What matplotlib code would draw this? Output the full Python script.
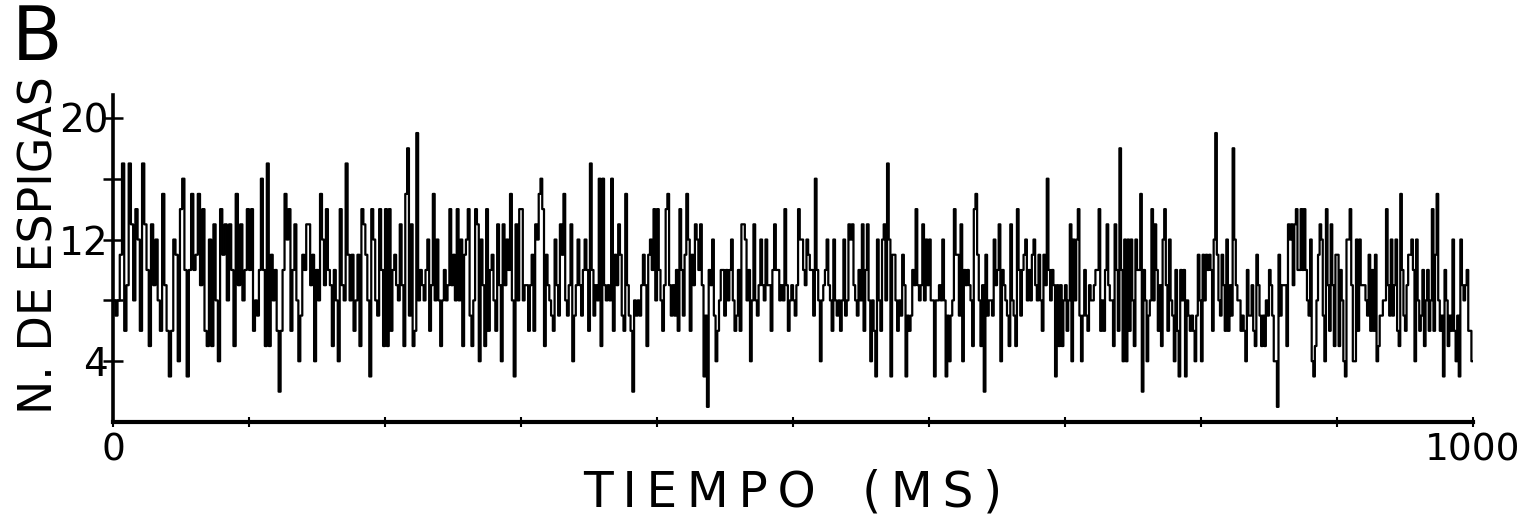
import numpy as np
import matplotlib
matplotlib.use("Agg")
import matplotlib.pyplot as plt

# spike counts, one list per 100 ms stretch
seg1 = [8, 7, 8, 11, 17, 6, 9, 17, 13, 8, 14, 12, 6, 17, 13, 10, 5, 13, 9, 12, 8, 6, 15, 9, 6, 3, 6, 12, 11, 4,
        14, 16, 10, 3, 10, 15, 10, 11, 15, 9, 14, 6, 5, 12, 5, 13, 8, 4, 14, 11, 13, 8, 13, 10, 5, 15, 9, 13, 8, 10, 14]
seg2 = [10, 14, 6, 8, 7, 10, 16, 10, 5, 17, 5, 11, 8, 10, 6, 2, 6, 10, 15, 12, 14, 6, 10, 13, 8, 4, 7, 11, 10, 13,
        13, 9, 11, 4, 10, 8, 15, 12, 9, 14, 10, 9, 5, 10, 8, 4, 14, 9, 8, 17, 11, 8, 11, 6, 8, 11, 5, 14, 13, 11,
        8, 3, 14, 12, 8, 7, 14, 10, 5]
seg3 = [14, 5, 14, 6, 10, 11, 9, 8, 13, 9, 5, 15, 18, 7, 13, 5, 6, 19, 8, 10, 9, 8, 10, 12, 6, 9, 15, 8, 12, 8,
        5, 8, 10, 8, 9, 14, 9, 11, 8, 14, 8, 12, 5, 11, 12, 14, 7, 5, 8, 14, 13, 4, 12, 9, 5, 14, 6, 10, 11, 8,
        6, 13, 9, 4, 13, 9, 12, 10, 15, 8, 3, 13, 8, 14]
seg4 = [14, 8, 9, 9, 6, 9, 11, 6, 13, 12, 15, 16, 14, 5, 11, 9, 8, 7, 6, 12, 9, 7, 13, 11, 15, 8, 7, 9, 13, 4,
        7, 9, 12, 9, 7, 10, 12, 10, 6, 17, 10, 7, 9, 8, 16, 5, 16, 9, 8, 9, 8, 16, 6, 11, 9, 13, 11, 7, 6, 15,
        9, 7, 6, 2, 8, 7, 8, 7, 9, 11, 9, 5, 11, 12, 10, 14, 8]
seg5 = [14, 10, 8, 6, 9, 14, 15, 9, 7, 9, 7, 10, 6, 14, 10, 7, 11, 15, 12, 6, 11, 9, 13, 12, 10, 13, 9, 3, 7, 1,
        10, 9, 12, 7, 4, 6, 8, 10, 10, 7, 10, 8, 10, 12, 8, 6, 7, 10, 6, 13, 13, 12, 8, 10, 4, 8, 13, 8, 7, 9,
        12, 9, 8, 12, 9, 9, 6, 10, 13, 10, 10, 8, 9, 8, 14, 9, 6, 8, 9]
seg6 = [8, 7, 9, 14, 12, 12, 10, 9, 12, 11, 10, 10, 7, 16, 10, 8, 4, 8, 9, 10, 12, 9, 8, 6, 12, 8, 7, 8, 6, 8,
        12, 7, 8, 13, 12, 13, 9, 8, 7, 10, 8, 13, 6, 10, 13, 8, 4, 8, 6, 3, 12, 8, 6, 12, 13, 8, 17, 12, 3, 11,
        11, 8, 6, 8, 7, 11, 9, 3, 7, 6, 7, 10, 9, 14, 9, 8, 9, 13, 8, 12, 9]
seg7 = [12, 8, 8, 3, 8, 8, 9, 8, 12, 8, 3, 7, 4, 7, 8, 14, 11, 11, 7, 13, 4, 10, 9, 10, 9, 8, 5, 14, 15, 11,
        8, 5, 9, 2, 11, 7, 8, 8, 7, 12, 9, 10, 13, 4, 10, 9, 8, 7, 5, 13, 8, 7, 5, 14, 10, 7, 10, 11, 12, 8,
        10, 8, 11, 12, 9, 8, 11, 8, 6, 11, 9, 16, 10, 8, 10, 9, 3, 9, 5, 9, 5, 8]
seg8 = [9, 6, 8, 13, 4, 12, 8, 12, 14, 7, 4, 7, 10, 7, 6, 9, 8, 8, 9, 10, 10, 14, 6, 8, 6, 10, 13, 9, 8, 8,
        5, 13, 10, 6, 18, 10, 4, 12, 4, 12, 6, 12, 8, 5, 12, 10, 10, 15, 2, 10, 8, 4, 7, 8, 14, 8, 13, 10, 6, 9,
        5, 12, 14, 9, 6, 12, 8, 7, 4, 10, 6, 3, 10, 8, 10, 3, 8, 7, 6, 7, 6, 4, 7, 11, 8]
seg9 = [4, 11, 8, 11, 10, 11, 10, 6, 12, 19, 11, 8, 7, 11, 9, 6, 12, 6, 9, 7, 18, 12, 9, 8, 8, 6, 7, 6, 4, 10,
        7, 7, 9, 6, 5, 11, 9, 7, 5, 7, 5, 8, 7, 10, 9, 7, 4, 4, 1, 11, 7, 9, 9, 9, 5, 13, 12, 13, 9, 13,
        14, 10, 10, 14, 10, 14, 10, 8, 7, 12, 4, 3, 5, 8, 11, 13, 12, 7, 4, 14, 9, 6, 13, 9, 5, 11]
seg10 = [11, 5, 10, 8, 4, 3, 12, 12, 14, 9, 4, 4, 12, 6, 12, 9, 9, 9, 8, 7, 11, 6, 10, 6, 11, 4, 5, 7, 7, 8,
         8, 14, 9, 7, 12, 7, 9, 12, 6, 5, 15, 10, 7, 6, 9, 11, 11, 12, 10, 4, 12, 8, 6, 7, 10, 5, 8, 10, 6, 8,
         14, 6, 11, 15, 8, 6, 7, 3, 10, 8, 5, 7, 6, 12, 6, 4, 7, 3, 12, 9, 8, 9, 10, 6, 6, 4]

segments = [seg1, seg2, seg3, seg4, seg5, seg6, seg7, seg8, seg9, seg10]
seg_len = 100  # ms per stretch

y_ticks = [4, 8, 12, 16, 20]
y_labels = ['4', '', '12', '', '20']
x_ticks = list(range(0, 1001, 100))
x_labels = ['0'] + [''] * 9 + ['1000']

times = []
counts = []
for k, seg in enumerate(segments):
    n = len(seg)
    times.extend(k * seg_len + (np.arange(n) + 0.5) * seg_len / n)
    counts.extend(seg)

fig = plt.figure(figsize=(15.28, 5.25), dpi=100)
ax = fig.add_axes([0.074, 0.196, 0.890, 0.623])

ax.step(times, counts, where='mid', color='black', linewidth=1.6)

ax.set_xlim(0, 1000)
ax.set_ylim(0, 21.5)

for side in ['top', 'right']:
    ax.spines[side].set_visible(False)
ax.spines['left'].set_linewidth(2.6)
ax.spines['bottom'].set_linewidth(3.0)

ax.set_yticks(y_ticks)
ax.set_yticklabels(y_labels)
ax.set_xticks(x_ticks)
ax.set_xticklabels(x_labels)
ax.tick_params(axis='y', direction='inout', length=15, width=1.8, pad=-4, labelsize=28)
ax.tick_params(axis='x', direction='inout', length=7, width=1.5, pad=4, labelsize=27)

# letter-spaced axis title, as in the printed figure
ax.set_xlabel('T\u2009I\u2009E\u2009M\u2009P\u2009O   (\u2009M\u2009S\u2009)', fontsize=35, labelpad=0)
ax.set_ylabel('N. DE ESPIGAS', fontsize=33)
ax.yaxis.set_label_coords(-0.037, 0.54)

fig.text(0.008, 0.995, 'B', fontsize=53, va='top', ha='left')

fig.savefig('out.png', dpi=100)
